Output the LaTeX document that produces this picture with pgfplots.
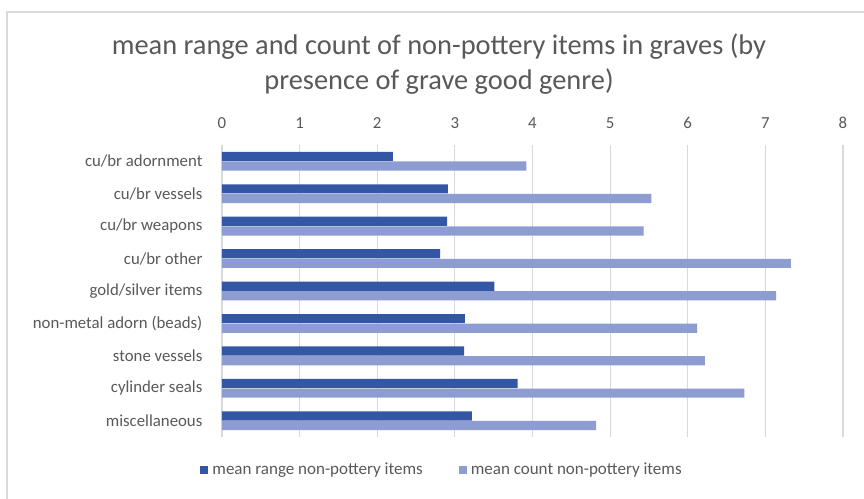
\documentclass[border=0pt]{standalone}
\usepackage{pgfplots}
\pgfplotsset{compat=1.18}
\usepackage{fontspec}
\setmainfont{Carlito}
\definecolor{darkbar}{HTML}{3457A5}
\definecolor{lightbar}{HTML}{8D9DD1}
\definecolor{txt}{HTML}{595959}
\definecolor{gridc}{HTML}{D9D9D9}
\begin{document}
\begin{tikzpicture}
\useasboundingbox (0,0) rectangle (432pt,249.5pt);
\fill[white] (0,0) rectangle (432pt,249.5pt);
\draw[gridc, line width=0.8pt] (3.5pt,-2pt) rectangle (434pt,243.5pt);
\node[text=txt, font=\fontsize{14.2}{17.5}\selectfont, align=center] at (219.5pt,217.25pt)
  {mean range and count of non-pottery items in graves (by\\presence of grave good genre)};
\begin{axis}[
  at={(111pt,31pt)}, anchor=south west,
  scale only axis, width=310.5pt, height=146pt,
  xbar, bar width=4.6pt,
  xmin=0, xmax=8, ymin=-0.5, ymax=8.5,
  xtick={0,1,...,8},
  ytick={0,1,...,8},
  yticklabels={miscellaneous,cylinder seals,stone vessels,non-metal adorn (beads),gold/silver items,cu/br other,cu/br weapons,cu/br vessels,cu/br adornment},
  axis line style={draw=none},
  tick style={draw=none},
  xticklabel pos=upper,
  xmajorgrids, grid style={gridc, line width=0.6pt},
  ymajorgrids=false,
  /pgf/number format/assume math mode=true,
  ticklabel style={text=txt, font=\fontsize{8.4}{10}\selectfont},
  xticklabel style={yshift=4.5pt},
  yticklabel style={xshift=-2pt},
  legend columns=2,
  legend style={at={(0.356,-0.113)}, anchor=center, draw=none, fill=none,
    font=\fontsize{8.5}{10}\selectfont, text=txt,
    /tikz/every even column/.append style={column sep=16pt}},
  legend image code/.code={\fill[#1] (0pt,-2pt) rectangle (4pt,2pt);},
]
\addplot[fill=darkbar, draw=none, bar shift=2.4pt] coordinates {
  (3.22,0) (3.81,1) (3.12,2) (3.13,3) (3.51,4) (2.81,5) (2.90,6) (2.91,7) (2.20,8)};
\addplot[fill=lightbar, draw=none, bar shift=-2.4pt] coordinates {
  (4.82,0) (6.73,1) (6.22,2) (6.12,3) (7.14,4) (7.33,5) (5.43,6) (5.53,7) (3.92,8)};
\legend{mean range non-pottery items, mean count non-pottery items}
\end{axis}
\end{tikzpicture}
\end{document}
